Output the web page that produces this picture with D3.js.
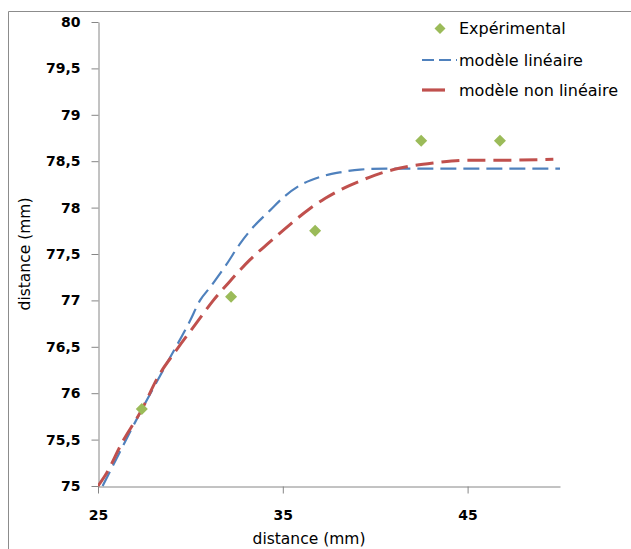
<!DOCTYPE html>
<html>
<head>
<meta charset="utf-8">
<script src="https://cdn.jsdelivr.net/npm/d3@7/dist/d3.min.js"></script>
<style>
  html, body { margin: 0; padding: 0; background: #fff; }
  svg { display: block; }
</style>
</head>
<body>
<svg id="chart" width="631" height="549"></svg>
<script>
// ---- data ----
const expX = [27.37, 32.2, 36.75, 42.49, 46.75];
const expY = [75.83, 77.04, 77.75, 78.72, 78.72];

const linX = [25.25, 27.36, 28.72, 29.98, 30.52, 31.06, 31.96, 32.68, 33.40, 34.31, 35.03, 35.93, 37.01, 38.10, 39.18, 40.62, 50];
const linY = [75.0, 75.82, 76.32, 76.78, 77.0, 77.14, 77.39, 77.61, 77.79, 77.97, 78.11, 78.24, 78.33, 78.38, 78.41, 78.42, 78.42];

const nlX = [25, 25.47, 26.28, 27.36, 28.26, 29.26, 30.34, 31.24, 32.2, 33.23, 34.3, 35.4, 36.4, 37.3, 38.2, 39.1, 40.0, 41.0, 42.0, 43.14, 44.95, 46.75, 49.64];
const nlY = [75, 75.14, 75.46, 75.82, 76.18, 76.47, 76.76, 77.0, 77.22, 77.44, 77.63, 77.82, 77.98, 78.1, 78.2, 78.28, 78.35, 78.41, 78.45, 78.48, 78.51, 78.51, 78.52];

const xTicks = [25, 35, 45];
const yTicks = [75, 75.5, 76, 76.5, 77, 77.5, 78, 78.5, 79, 79.5, 80];
const seriesNames = ["Expérimental", "modèle linéaire", "modèle non linéaire"];
const xTitle = "distance (mm)";
const yTitle = "distance (mm)";

// ---- drawing ----
const svg = d3.select("#chart");
const font = "'DejaVu Sans', Verdana, sans-serif";
const axisColor = "#868686";

// outer frame (left and top edges visible)
svg.append("path")
  .attr("d", "M8.5,549 L8.5,11.5 L631,11.5")
  .attr("fill", "none").attr("stroke", "#8c8c8c").attr("stroke-width", 1);

const x = d3.scaleLinear().domain([25, 50]).range([98, 560]);
const y = d3.scaleLinear().domain([75, 80]).range([486, 22]);

const fmt = d => d3.format("")(d).replace(".", ",");

// y axis
const yAxis = svg.append("g").attr("transform", "translate(98.5,0)")
  .call(d3.axisLeft(y).tickValues(yTicks).tickSize(7).tickSizeOuter(0).tickFormat(fmt));
yAxis.select(".domain").attr("stroke", axisColor);
yAxis.selectAll(".tick line").attr("stroke", axisColor);
yAxis.selectAll(".tick text")
  .attr("x", -18).attr("fill", "#000")
  .style("font-family", font).style("font-size", "14px").style("font-weight", "bold");

// x axis
const xAxis = svg.append("g").attr("transform", "translate(0,486.5)")
  .call(d3.axisBottom(x).tickValues(xTicks).tickSize(7).tickSizeOuter(0).tickFormat(d3.format("d")));
xAxis.select(".domain").attr("stroke", axisColor);
xAxis.selectAll(".tick line").attr("stroke", axisColor);
xAxis.selectAll(".tick text")
  .attr("y", 24).attr("fill", "#000")
  .style("font-family", font).style("font-size", "14px").style("font-weight", "bold");

// axis titles
svg.append("text").attr("x", 309).attr("y", 544)
  .attr("text-anchor", "middle").style("font-family", font).style("font-size", "15.5px")
  .attr("fill", "#000").text(xTitle);
svg.append("text").attr("transform", "translate(30,254) rotate(-90)")
  .attr("text-anchor", "middle").style("font-family", font).style("font-size", "15.5px")
  .attr("fill", "#000").text(yTitle);

// clip
svg.append("clipPath").attr("id", "plotclip")
  .append("rect").attr("x", 98).attr("y", 20).attr("width", 465).attr("height", 468);

const line = d3.line().x(d => x(d[0])).y(d => y(d[1])).curve(d3.curveMonotoneX);
const plot = svg.append("g").attr("clip-path", "url(#plotclip)");

plot.append("path")
  .datum(linX.map((v, i) => [v, linY[i]]))
  .attr("d", line).attr("fill", "none")
  .attr("stroke", "#4F81BD").attr("stroke-width", 2.2)
  .attr("stroke-dasharray", "16,7");

plot.append("path")
  .datum(nlX.map((v, i) => [v, nlY[i]]))
  .attr("d", line).attr("fill", "none")
  .attr("stroke", "#C0504D").attr("stroke-width", 3)
  .attr("stroke-dasharray", "18,8");

const diamond = d3.symbol().type(d3.symbolSquare).size(72);
svg.append("g").selectAll("path")
  .data(expX.map((v, i) => [v, expY[i]]))
  .join("path")
  .attr("d", diamond)
  .attr("transform", d => `translate(${x(d[0])},${y(d[1])}) rotate(45)`)
  .attr("fill", "#9BBB59");

// legend
const lg = svg.append("g");
lg.append("path").attr("d", d3.symbol().type(d3.symbolSquare).size(60))
  .attr("transform", "translate(440,28.5) rotate(45)").attr("fill", "#9BBB59");
lg.append("line").attr("x1", 422).attr("x2", 457).attr("y1", 60).attr("y2", 60)
  .attr("stroke", "#4F81BD").attr("stroke-width", 2.2).attr("stroke-dasharray", "12,5");
lg.append("line").attr("x1", 422).attr("x2", 445).attr("y1", 90).attr("y2", 90)
  .attr("stroke", "#C0504D").attr("stroke-width", 3.2);
const ly = [28, 60, 90];
seriesNames.forEach((n, i) => {
  lg.append("text").attr("x", 459).attr("y", ly[i]).attr("dy", "0.35em")
    .style("font-family", font).style("font-size", "16px").attr("fill", "#000").text(n);
});
</script>
</body>
</html>
